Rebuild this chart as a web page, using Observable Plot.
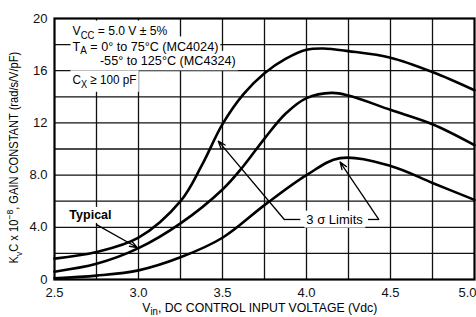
<!DOCTYPE html>
<html>
<head>
<meta charset="utf-8">
<script src="https://cdn.jsdelivr.net/npm/d3@7"></script>
<script src="https://cdn.jsdelivr.net/npm/@observablehq/plot@0.6"></script>
<style>
  html, body { margin: 0; padding: 0; background: #fff; }
  #chart svg { display: block; }
</style>
</head>
<body>
<div id="chart"></div>
<script>
// ---- data ----
const upperV = [2.5, 2.75, 3.0, 3.25, 3.375, 3.5, 3.625, 3.75, 3.875, 4.0, 4.1, 4.25, 4.5, 4.75, 5.0];
const upperK = [1.6, 2.1, 3.2, 6.0, 8.7, 11.9, 14.2, 15.8, 16.9, 17.6, 17.7, 17.5, 17.0, 15.9, 14.5];

const typicalV = [2.5, 2.75, 3.0, 3.25, 3.5, 3.625, 3.75, 3.875, 4.0, 4.15, 4.25, 4.5, 4.75, 5.0];
const typicalK = [0.6, 1.2, 2.4, 4.3, 6.9, 8.7, 10.8, 12.7, 13.9, 14.3, 14.1, 13.0, 11.9, 10.3];

const lowerV = [2.5, 2.75, 3.0, 3.25, 3.5, 3.75, 4.0, 4.2, 4.5, 4.75, 5.0];
const lowerK = [0.1, 0.3, 0.7, 1.7, 3.2, 5.7, 8.0, 9.3, 8.7, 7.4, 6.1];

const xTicks = [2.5, 3.0, 3.5, 4.0, 4.5];
const xTickLabels = ["2.5", "3.0", "3.5", "4.0", "4.5"];
const xLastTick = [5.0];
const xLastTickLabel = "5.0";
const yTicks = [0, 4, 8, 12, 16, 20];
const yTickLabels = ["0", "4.0", "8.0", "12", "16", "20"];
const xGrid = [2.75, 3.0, 3.25, 3.5, 3.75, 4.0, 4.25, 4.5, 4.75];
const yGrid = [2, 4, 6, 8, 10, 12, 14, 16, 18];

// condition notes (markup: _{} subscript, ^{} superscript)
const noteText = ["V_{CC} = 5.0 V ± 5%", "T_{A} = 0° to 75°C (MC4024)", "-55° to 125°C (MC4324)", "C_{X} ≥ 100 pF"];
const noteV = [2.607, 2.607, 2.77, 2.607];
const noteK = [19.05, 17.85, 16.75, 15.3];
const noteWidth = [95, 146, 136, 64];

// annotations
const typicalLabel = {v: 2.714, k: 4.95, text: "Typical"};
const typicalArrow = {v1: 2.75, k1: 4.2, v2: 2.992, k2: 2.45};
const sigmaLabel = {v: 4.167, k: 4.6, text: "3 σ Limits"};
const sigmaLinks = [{v1: 3.963, k1: 4.6, v2: 3.868, k2: 4.6}, {v1: 4.366, k1: 4.6, v2: 4.43, k2: 4.6}];
const sigmaArrows = [{v1: 3.868, k1: 4.6, v2: 3.475, k2: 10.6}, {v1: 4.43, k1: 4.6, v2: 4.2, k2: 9.0}];

const yLabel = "K_{v}C x 10^{−8}, GAIN CONSTANT (rad/s/V/pF)";
const xLabel = "V_{in}, DC CONTROL INPUT VOLTAGE (Vdc)";
const yLabelWidth = 212;
const xLabelWidth = 235;

const plain = s => s.replace(/[_^]\{([^}]*)\}/g, "$1");
const zip = (xs, ys) => xs.map((x, i) => ({v: x, k: ys[i]}));
const curves = [zip(upperV, upperK), zip(typicalV, typicalK), zip(lowerV, lowerK)];
const notes = noteText.map((t, i) => ({v: noteV[i], k: noteK[i], text: t}));

const FONT = "'Liberation Sans', Arial, sans-serif";

const chart = Plot.plot({
  width: 476,
  height: 317,
  marginLeft: 54,
  marginRight: 2,
  marginTop: 18,
  marginBottom: 38,
  style: {fontFamily: FONT, fontSize: "12px", color: "#111", background: "#fff"},
  x: {domain: [2.5, 5.0]},
  y: {domain: [0, 20]},
  marks: [
    Plot.ruleX(xGrid, {stroke: "#111", strokeWidth: 1.3}),
    Plot.ruleY(yGrid, {stroke: "#111", strokeWidth: 1.3}),
    Plot.frame({stroke: "#000", strokeWidth: 2.2}),
    Plot.axisX({ticks: xTicks, tickSize: 0, tickPadding: 8, tickFormat: (d, i) => xTickLabels[i], label: null, fontSize: 13}),
    Plot.axisX({ticks: xLastTick, tickSize: 0, tickPadding: 8, tickFormat: () => xLastTickLabel, textAnchor: "end", dx: 2, label: null, fontSize: 13}),
    Plot.axisY({ticks: yTicks, tickSize: 0, tickPadding: 7, tickFormat: (d, i) => yTickLabels[i], label: null, fontSize: 13}),
    ...curves.map(c => Plot.line(c, {x: "v", y: "k", curve: "catmull-rom", stroke: "#000", strokeWidth: 2.6})),
    // leaders
    Plot.arrow([typicalArrow], {x1: "v1", y1: "k1", x2: "v2", y2: "k2", stroke: "#000", strokeWidth: 1.3, headLength: 9, headAngle: 40}),
    Plot.link(sigmaLinks, {x1: "v1", y1: "k1", x2: "v2", y2: "k2", stroke: "#000", strokeWidth: 1.3}),
    Plot.arrow(sigmaArrows, {x1: "v1", y1: "k1", x2: "v2", y2: "k2", stroke: "#000", strokeWidth: 1.3, headLength: 9, headAngle: 40}),
    // texts
    Plot.text(notes, {x: "v", y: "k", text: d => plain(d.text), textAnchor: "start", fontSize: 13.5, fill: "#000", className: "rich halo notes"}),
    Plot.text([typicalLabel], {x: "v", y: "k", text: "text", fontSize: 12.5, fontWeight: 600, fill: "#000", className: "halo"}),
    Plot.text([sigmaLabel], {x: "v", y: "k", text: "text", fontSize: 13, fill: "#000", className: "halo"}),
    Plot.text([plain(yLabel)], {frameAnchor: "left", textAnchor: "middle", rotate: -90, dx: -40, dy: 8, text: d => d, fontSize: 12, fill: "#000", className: "rich vert"}),
    Plot.text([plain(xLabel)], {frameAnchor: "bottom", textAnchor: "middle", dy: 32, dx: -4.5, text: d => d, fontSize: 13, fill: "#000", className: "rich"})
  ]
});

// apply sub/superscripts to rich texts
const markups = [...noteText, yLabel, xLabel];
const widths = [...noteWidth, yLabelWidth, xLabelWidth];
const byPlain = new Map(markups.map((m, i) => [plain(m), {m, w: widths[i]}]));
function enrich(el, markup) {
  const sel = d3.select(el);
  sel.text(null);
  const re = /([_^])\{([^}]*)\}/g;
  let last = 0, m, shift = 0;
  const add = (txt, dy, small) => {
    const t = sel.append("tspan").text(txt);
    if (dy) t.attr("dy", dy);
    if (small) t.attr("font-size", "78%");
  };
  while ((m = re.exec(markup))) {
    if (m.index > last) { add(markup.slice(last, m.index), shift ? -shift : null, false); shift = 0; }
    const d = m[1] === "_" ? 3.5 : -5;
    add(m[2], shift ? d - shift : d, true);
    shift = d;
    last = m.index + m[0].length;
  }
  if (last < markup.length) add(markup.slice(last), shift ? -shift : null, false);
}
const richItems = [];
d3.select(chart).selectAll(".rich text").each(function() {
  const e = byPlain.get(this.textContent);
  if (e) { enrich(this, e.m); richItems.push({el: this, w: e.w}); }
});

document.getElementById("chart").appendChild(chart);
const svgRect = chart.getBoundingClientRect();
const NS = "http://www.w3.org/2000/svg";

// condense rich texts to the reference's widths (the reference uses a condensed face)
for (const {el, w} of richItems) {
  const vertical = el.closest(".vert") !== null;
  const start = el.closest(".notes") !== null;
  const b = el.getBoundingClientRect();
  const L = vertical ? b.height : b.width;
  const s = w / L;
  let ax, ay;
  if (vertical) { ax = b.left + b.width / 2 - svgRect.left; ay = b.top + b.height / 2 - svgRect.top; }
  else if (start) { ax = b.left - svgRect.left; ay = b.top - svgRect.top; }
  else { ax = b.left + b.width / 2 - svgRect.left; ay = b.top - svgRect.top; }
  const g = document.createElementNS(NS, "g");
  g.setAttribute("transform", `translate(${ax},${ay}) scale(${vertical ? 1 : s},${vertical ? s : 1}) translate(${-ax},${-ay})`);
  el.parentNode.insertBefore(g, el);
  g.appendChild(el);
}

// white backgrounds behind in-plot labels (as in the reference)
const firstHalo = chart.querySelector("g.halo");
const bg = document.createElementNS(NS, "g");
firstHalo.parentNode.insertBefore(bg, firstHalo);
const noteEls = [...chart.querySelectorAll("g.notes text")];
const noteLeft = Math.min(...noteEls.map(t => t.getBoundingClientRect().left)) - svgRect.left;
chart.querySelectorAll("g.halo text").forEach(t => {
  const b = t.getBoundingClientRect();
  const isNote = noteEls.includes(t);
  const x0 = isNote ? noteLeft - 2 : b.left - svgRect.left - 2;
  const x1 = b.right - svgRect.left + 2;
  const r = document.createElementNS(NS, "rect");
  r.setAttribute("x", x0);
  r.setAttribute("y", b.top - svgRect.top - (isNote ? 2 : 1));
  r.setAttribute("width", x1 - x0);
  r.setAttribute("height", b.height + (isNote ? 4 : 2));
  r.setAttribute("fill", "#fff");
  bg.appendChild(r);
});
</script>
</body>
</html>
